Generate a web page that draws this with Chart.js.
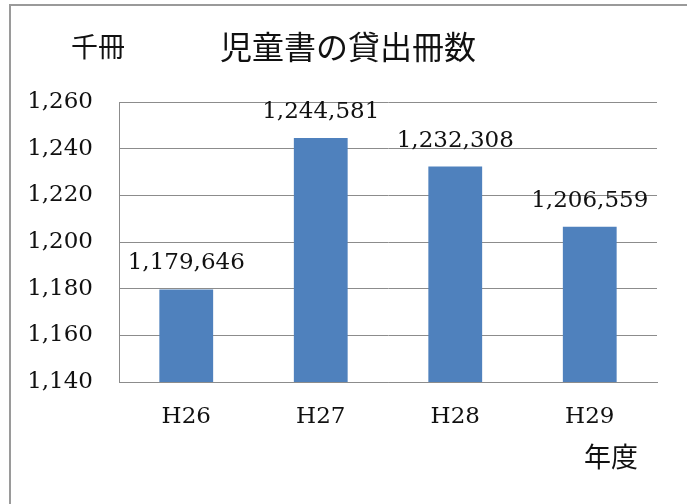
<!DOCTYPE html>
<html>
<head>
<meta charset="utf-8">
<script src="https://cdn.jsdelivr.net/npm/chart.js@4/dist/chart.umd.min.js"></script>
<style>
body{margin:0;background:#fff;}
canvas{display:block;}
</style>
</head>
<body>
<canvas id="chart" width="687" height="504"></canvas>
<script>
// 児童書の貸出冊数 (冊)
let years=['H26','H27','H28','H29'];
let books=[1179646,1244581,1232308,1206559];
let yMin=1140, yMax=1260, yStep=20;

let serif='"DejaVu Serif", "Noto Sans CJK JP", serif';
let jp='"Noto Sans CJK JP", sans-serif';

// frame, title, unit labels and value labels
let decor={
    id:'decor',
    beforeDraw(chart){
        let c=chart.ctx;
        c.save();
        c.fillStyle='#fff';
        c.fillRect(0,0,chart.width,chart.height);
        c.strokeStyle='#9a9a9a';
        c.lineWidth=2;
        c.strokeRect(10,5,700,600);
        c.restore();
    },
    afterDraw(chart){
        let c=chart.ctx;
        c.save();
        c.fillStyle='#111';
        c.textBaseline='middle';
        c.textAlign='center';
        c.font='32px '+jp;
        c.fillText('児童書の貸出冊数',348,47);
        c.font='27px '+jp;
        c.fillText('千冊',98,47);
        c.fillText('年度',611,457);
        c.font='23px '+serif;
        let meta=chart.getDatasetMeta(0);
        meta.data.forEach(function(bar,i){
            c.fillText(books[i].toLocaleString('en-US'),bar.x,bar.y-26);
        });
        c.restore();
    }
};

new Chart('chart',{
    type:'bar',
    data:{
        labels:years,
        datasets:[{
            data:books.map(function(v){return v/1000;}),
            backgroundColor:'#4F81BD',
            borderWidth:0,
            barPercentage:0.4,
            categoryPercentage:1
        }]
    },
    options:{
        responsive:false,
        animation:false,
        layout:{padding:{left:10,right:30,top:102,bottom:0}},
        plugins:{legend:{display:false},tooltip:{enabled:false}},
        scales:{
            x:{
                grid:{display:false,drawTicks:false},
                border:{color:'#8c8c8c',width:1},
                ticks:{color:'#111',padding:21,font:{family:serif,size:23}},
                afterFit(s){s.height=122;}
            },
            y:{
                min:yMin,max:yMax,
                grid:{color:'#8c8c8c',drawTicks:false},
                border:{color:'#8c8c8c',width:1},
                ticks:{
                    stepSize:yStep,color:'#111',padding:26,
                    font:{family:serif,size:23},
                    callback:function(v){return v.toLocaleString('en-US');}
                },
                afterFit(s){s.width=109;}
            }
        }
    },
    plugins:[decor]
});
</script>
</body>
</html>
